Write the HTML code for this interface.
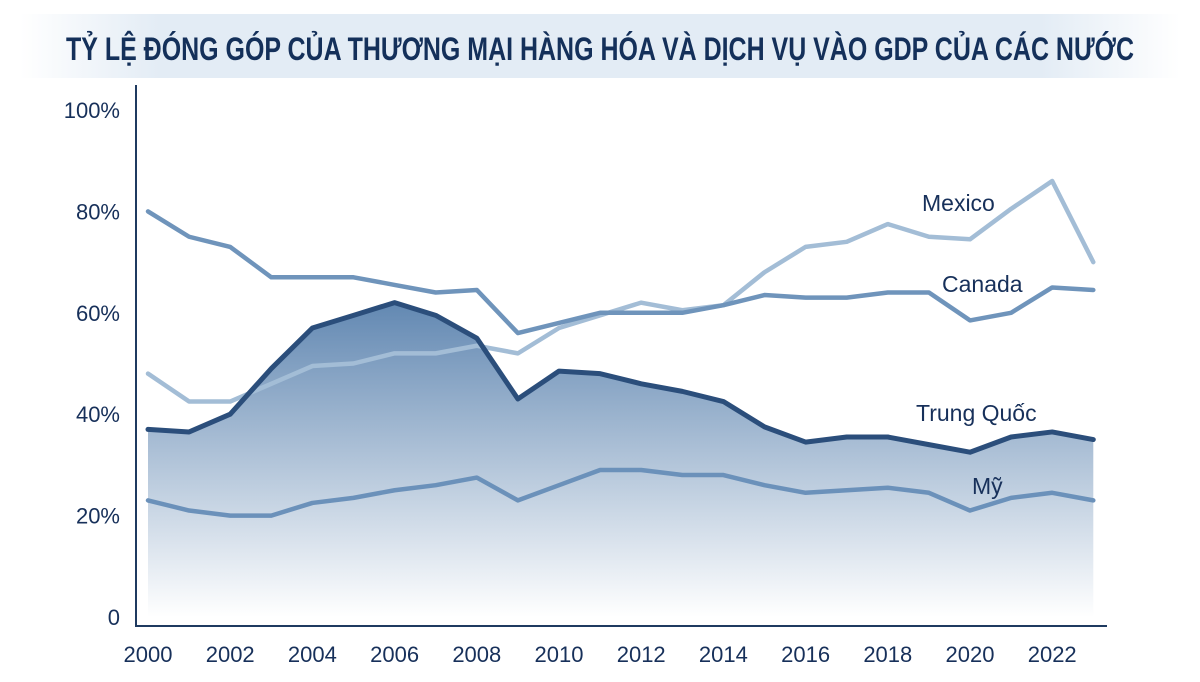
<!DOCTYPE html>
<html><head><meta charset="utf-8">
<style>
html,body{margin:0;padding:0;background:#fff;}
svg{display:block;font-family:"Liberation Sans","DejaVu Sans",sans-serif;}
</style></head>
<body>
<svg id="chart" width="1200" height="682" viewBox="0 0 1200 682">
<defs>
<linearGradient id="band" x1="0" x2="1" y1="0" y2="0">
<stop offset="0" stop-color="#e3ecf5" stop-opacity="0"/>
<stop offset="0.12" stop-color="#e3ecf5"/>
<stop offset="0.88" stop-color="#e3ecf5"/>
<stop offset="1" stop-color="#e3ecf5" stop-opacity="0"/>
</linearGradient>
<linearGradient id="area" x1="0" x2="0" y1="0" y2="1" gradientUnits="userSpaceOnUse">
<stop offset="0" stop-color="#6288b2"/>
<stop offset="1" stop-color="#ffffff"/>
</linearGradient>
</defs>
<rect x="20" y="14" width="1160" height="64" fill="url(#band)"/>
<text x="600" y="60" text-anchor="middle" font-size="32" font-weight="bold" fill="#14305a" textLength="1068" lengthAdjust="spacingAndGlyphs">TỶ LỆ ĐÓNG GÓP CỦA THƯƠNG MẠI HÀNG HÓA VÀ DỊCH VỤ VÀO GDP CỦA CÁC NƯỚC</text>
<g id="plot"></g>
</svg>
<script>
const years=[2000,2001,2002,2003,2004,2005,2006,2007,2008,2009,2010,2011,2012,2013,2014,2015,2016,2017,2018,2019,2020,2021,2022,2023];
const canada=[80,75,73,67,67,67,65.5,64,64.5,56,58,60,60,60,61.5,63.5,63,63,64,64,58.5,60,65,64.5];
const mexico=[48,42.5,42.5,46,49.5,50,52,52,53.5,52,57,59.5,62,60.5,61.5,68,73,74,77.5,75,74.5,80.5,86,70];
const china=[37,36.5,40,49,57,59.5,62,59.5,55,43,48.5,48,46,44.5,42.5,37.5,34.5,35.5,35.5,34,32.5,35.5,36.5,35];
const usa=[23,21,20,20,22.5,23.5,25,26,27.5,23,26,29,29,28,28,26,24.5,25,25.5,24.5,21,23.5,24.5,23];
const yTicks=[0,20,40,60,80,100];
const yTickLabels=["0","20%","40%","60%","80%","100%"];
const xTicks=[2000,2002,2004,2006,2008,2010,2012,2014,2016,2018,2020,2022];

const NS="http://www.w3.org/2000/svg";
const g=document.getElementById('plot');
const X=y=>148+(y-2000)*41.1;
const Y=v=>617-v*5.07;
function mk(t,a){const e=document.createElementNS(NS,t);for(const k in a)e.setAttribute(k,a[k]);g.appendChild(e);return e;}

let d='M'+X(years[0])+','+Y(0);
years.forEach((yr,i)=>{d+=' L'+X(yr)+','+Y(china[i]);});
d+=' L'+X(years[years.length-1])+','+Y(0)+' Z';
const grad=document.getElementById('area');
grad.setAttribute('y1',Y(62));grad.setAttribute('y2',Y(0));
const ar=mk('path',{d:d,fill:'url(#area)'});



function line(vals,color,w,name){
  const p=vals.map((v,i)=>X(years[i])+','+Y(v)).join(' ');
  const e=mk('polyline',{points:p,fill:'none',stroke:color,'stroke-width':w,'stroke-linejoin':'round','stroke-linecap':'round'});
  
  
}
line(usa,'#6b91ba',4.5,'usa-line');
line(mexico,'#a3bdd6',4.5,'mexico-line');
line(canada,'#6f94bb',4.5,'canada-line');
line(china,'#2b4e7b',5,'china-line');

const ya=mk('line',{x1:136,y1:85,x2:136,y2:627,stroke:'#1f3a60','stroke-width':2});


const xa=mk('line',{x1:135,y1:626,x2:1107,y2:626,stroke:'#1f3a60','stroke-width':2});



yTicks.forEach((v,i)=>{
  const t=mk('text',{x:120,y:Y(v)+8,'text-anchor':'end','font-size':22,fill:'#17305a'});
  t.textContent=yTickLabels[i];
  
  
});
xTicks.forEach(v=>{
  const t=mk('text',{x:X(v),y:662,'text-anchor':'middle','font-size':22,fill:'#17305a'});
  t.textContent=v;
  
  
});

function lab(txt,x,y,name){
  const t=mk('text',{x:x,y:y,'font-size':23,fill:'#17305a'});
  t.textContent=txt;
  
  
}
lab('Mexico',922,211,'mexico-label');
lab('Canada',942,292,'canada-label');
lab('Trung Quốc',916,421,'china-label');
lab('Mỹ',972,494,'usa-label');
</script>
</body></html>
